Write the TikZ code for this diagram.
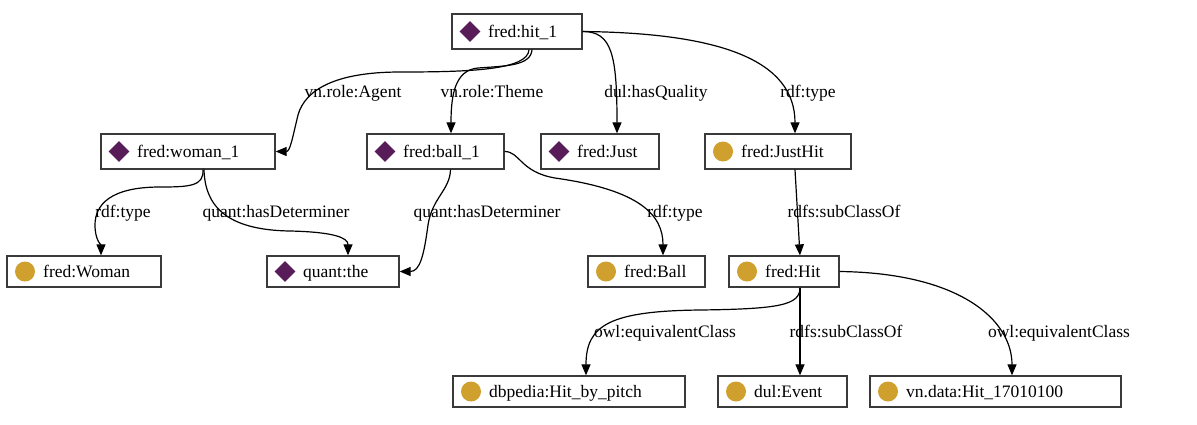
\documentclass[tikz,border=0pt]{standalone}
\usepackage{fontspec}
\setmainfont{Liberation Serif}
\usetikzlibrary{arrows.meta,shapes.geometric,fit}
\definecolor{diacol}{HTML}{581C58}
\definecolor{circcol}{HTML}{CFA02E}
\definecolor{boxcol}{HTML}{3A3A3A}
\tikzset{
  gbox/.style={draw=boxcol, line width=1.3pt, inner sep=0pt, rectangle},
  diaicon/.style={diamond, fill=diacol, inner sep=0pt, minimum size=21pt},
  circicon/.style={circle, fill=circcol, inner sep=0pt, minimum size=20pt},
  gtext/.style={anchor=base west, inner sep=0pt, font=\fontsize{17.5}{21}\selectfont},
  elabel/.style={anchor=base, inner sep=0pt, font=\fontsize{17.5}{21}\selectfont},
  edge/.style={draw=black, line width=1.2pt, -{Triangle[length=11pt,width=9pt]}}
}
\newcommand{\gnode}[7]{%
  \node[gbox, fit={(#2,#3) (#4,#5)}] (#1) {};
  \node[#6] (#1-icon) at (#2+18,{(#3+#5)/2}) {};
  \node[gtext] (#1-text) at (#2+36,{(#3+#5)/2+5.5}) {#7};
}
\begin{document}
\begin{tikzpicture}[x=1pt,y=-1pt]
\useasboundingbox (0,0) rectangle (1197,424);
% nodes
\gnode{hit1}{452}{14}{582}{49}{diaicon}{fred:hit\_1}
\gnode{woman1}{101}{134}{275}{169}{diaicon}{fred:woman\_1}
\gnode{ball1}{367}{134}{504}{169}{diaicon}{fred:ball\_1}
\gnode{just}{541}{134}{659}{169}{diaicon}{fred:Just}
\gnode{justhit}{705}{134}{851}{169}{circicon}{fred:JustHit}
\gnode{woman}{7}{256}{161}{287}{circicon}{fred:Woman}
\gnode{the}{267}{256}{399}{287}{diaicon}{quant:the}
\gnode{ball}{588}{256}{705}{287}{circicon}{fred:Ball}
\gnode{hit}{729}{256}{839}{287}{circicon}{fred:Hit}
\gnode{dbp}{453}{376}{685}{407}{circicon}{dbpedia:Hit\_by\_pitch}
\gnode{event}{718}{376}{847}{407}{circicon}{dul:Event}
\gnode{vn}{870}{376}{1121}{407}{circicon}{vn.data:Hit\_17010100}
% edges
\draw[edge] ([xshift=12pt]hit1.south) .. controls (528,70) and (470,72) .. (400,72)
  .. controls (335,72) and (305,90) .. (298,115)
  .. controls (292,140) and (290,151.5) .. (woman1.east);
\draw[edge] ([xshift=15pt]hit1.south) .. controls (531,66) and (505,66) .. (478,68)
  .. controls (455,70) and (451,95) .. ([xshift=15.5pt]ball1.north);
\draw[edge] (hit1.east) .. controls (612,31.5) and (617,55) .. ([xshift=17pt]just.north);
\draw[edge] (hit1.east) .. controls (720,33) and (795,60) .. ([xshift=17pt]justhit.north);
\draw[edge] ([xshift=15pt]woman1.south) .. controls (204,186) and (190,187) .. (160,187)
  .. controls (110,187) and (95,205) .. (95,225)
  .. controls (95,240) and (101,245) .. ([xshift=17pt]woman.north);
\draw[edge] ([xshift=16pt]woman1.south) .. controls (205,205) and (225,230) .. (290,231)
  .. controls (335,232) and (348,238) .. ([xshift=15pt]the.north);
\draw[edge] ([xshift=15pt]ball1.south) .. controls (450,190) and (432,198) .. (428,225)
  .. controls (424,255) and (420,271.5) .. (the.east);
\draw[edge] (ball1.east) .. controls (520,151.5) and (520,172) .. (555,178)
  .. controls (640,190) and (663,215) .. ([xshift=16.5pt]ball.north);
\draw[edge] ([xshift=17pt]justhit.south) -- ([xshift=16pt]hit.north);
\draw[edge] ([xshift=16pt]hit.south) .. controls (800,305) and (780,309) .. (700,310)
  .. controls (610,311) and (586,325) .. ([xshift=17pt]dbp.north);
\draw[edge] ([xshift=16pt]hit.south) -- ([xshift=16pt]hit.south |- event.north);
\draw[edge] (hit.east) .. controls (960,273) and (1012,320) .. ([xshift=16.5pt]vn.north);
% labels
\node[elabel] (l1) at (353,97) {vn.role:Agent};
\node[elabel] (l2) at (492,97) {vn.role:Theme};
\node[elabel] (l3) at (656,97) {dul:hasQuality};
\node[elabel] (l4) at (808,97) {rdf:type};
\node[elabel] (l5) at (123,217) {rdf:type};
\node[elabel] (l6) at (276,217) {quant:hasDeterminer};
\node[elabel] (l7) at (487,217) {quant:hasDeterminer};
\node[elabel] (l8) at (675,217) {rdf:type};
\node[elabel] (l9) at (844,217) {rdfs:subClassOf};
\node[elabel] (l10) at (665,337) {owl:equivalentClass};
\node[elabel] (l11) at (846,337) {rdfs:subClassOf};
\node[elabel] (l12) at (1059,337) {owl:equivalentClass};
\end{tikzpicture}
\end{document}
